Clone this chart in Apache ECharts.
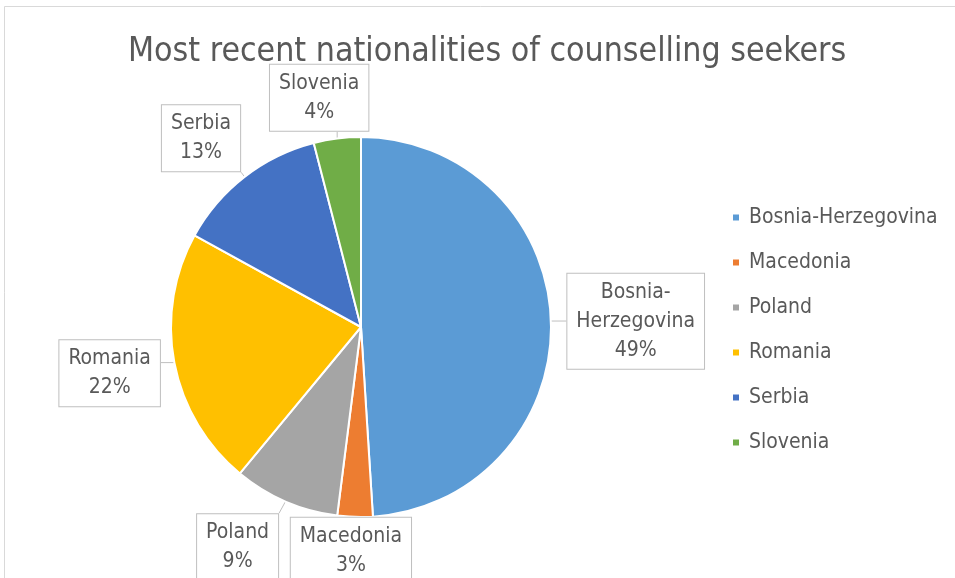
<!DOCTYPE html>
<html>
<head>
<meta charset="utf-8">
<script src="https://cdn.jsdelivr.net/npm/echarts@6/dist/echarts.min.js"></script>
<style>
html,body{margin:0;padding:0;background:#fff;}
#chart{width:955px;height:578px;}
</style>
</head>
<body>
<div id="chart"></div>
<script>
var titleText = 'Most recent nationalities of counselling seekers';
var categories = ['Bosnia-Herzegovina', 'Macedonia', 'Poland', 'Romania', 'Serbia', 'Slovenia'];
var values = [49, 3, 9, 22, 13, 4];
var colors = ['#5B9BD5', '#ED7D31', '#A5A5A5', '#FFC000', '#4472C4', '#70AD47'];

// layout only (label box placement, like Excel's best-fit callouts)
var PIE_CX = 361, PIE_CY = 327, PIE_R = 190;
var labelGap = [16, 0, 0, 0, 0, 0];
var labelNudge = [[-2, 3], [-3, -2], [-29, 2], [-9, 0], [-12, 2], [-13, -1]];

var total = values.reduce(function (a, b) { return a + b; }, 0);
var midAngles = [];
(function () {
  var cum = 0;
  for (var i = 0; i < values.length; i++) {
    var a = (cum + values[i] / 2) / total * Math.PI * 2;
    midAngles.push(a);
    cum += values[i];
  }
})();

var FONT = "'Liberation Sans Narrow', 'DejaVu Sans Condensed', 'Liberation Sans', sans-serif";
var chart = echarts.init(document.getElementById('chart'));
chart.setOption({
  animation: false,
  backgroundColor: '#fff',
  title: {
    text: titleText,
    left: 123,
    top: 30,
    textStyle: { fontFamily: FONT, fontSize: 33.6, fontWeight: 'normal', color: '#595959' }
  },
  legend: {
    orient: 'vertical',
    left: 726,
    top: 202,
    itemWidth: 8,
    itemHeight: 8,
    itemGap: 24,
    icon: 'rect',
    data: categories,
    textStyle: { fontFamily: FONT, fontSize: 21, color: '#595959', padding: [0, 0, 0, 4] }
  },
  graphic: [{
    type: 'rect',
    shape: { x: 4.5, y: 6.5, width: 1000, height: 1000 },
    style: { fill: 'none', stroke: '#d9d9d9', lineWidth: 1 },
    silent: true
  }],
  series: [{
    type: 'pie',
    center: [PIE_CX, PIE_CY],
    radius: PIE_R,
    startAngle: 90,
    clockwise: true,
    percentPrecision: 0,
    itemStyle: { borderColor: '#fff', borderWidth: 2 },
    data: categories.map(function (c, i) {
      return { name: c, value: values[i], itemStyle: { color: colors[i] } };
    }),
    label: {
      show: true,
      position: 'outside',
      formatter: function (p) {
        var lines = p.name.replace('-', '-\n').split('\n');
        lines.push(p.percent + '%');
        return lines.map(function (l) { return '{t|' + l + '}'; }).join('\n');
      },
      rich: {
        t: { fontFamily: FONT, fontSize: 21, lineHeight: 29, color: '#595959', align: 'center' }
      },
      fontFamily: FONT,
      fontSize: 21,
      lineHeight: 29,
      color: '#595959',
      backgroundColor: '#fff',
      borderColor: '#bfbfbf',
      borderWidth: 1,
      padding: [4, 9, 4, 9]
    },
    labelLine: {
      show: true,
      length: 8,
      length2: 8,
      lineStyle: { color: '#bfbfbf', width: 1 }
    },
    labelLayout: function (params) {
      var i = params.dataIndex;
      var a = midAngles[i];
      var dx = Math.sin(a), dy = -Math.cos(a);
      var ex = PIE_CX + PIE_R * dx, ey = PIE_CY + PIE_R * dy;
      var w = params.labelRect.width / 2, h = params.labelRect.height / 2;
      var s = labelGap[i] + w * Math.abs(dx) + h * Math.abs(dy);
      var cx = ex + dx * s + labelNudge[i][0];
      var cy = ey + dy * s + labelNudge[i][1];
      var bx = Math.max(cx - w, Math.min(cx + w, ex));
      var by = Math.max(cy - h, Math.min(cy + h, ey));
      return {
        x: cx,
        y: cy,
        align: 'center',
        verticalAlign: 'middle',
        labelLinePoints: [[ex, ey], [bx, by]]
      };
    }
  }]
});
</script>
</body>
</html>
